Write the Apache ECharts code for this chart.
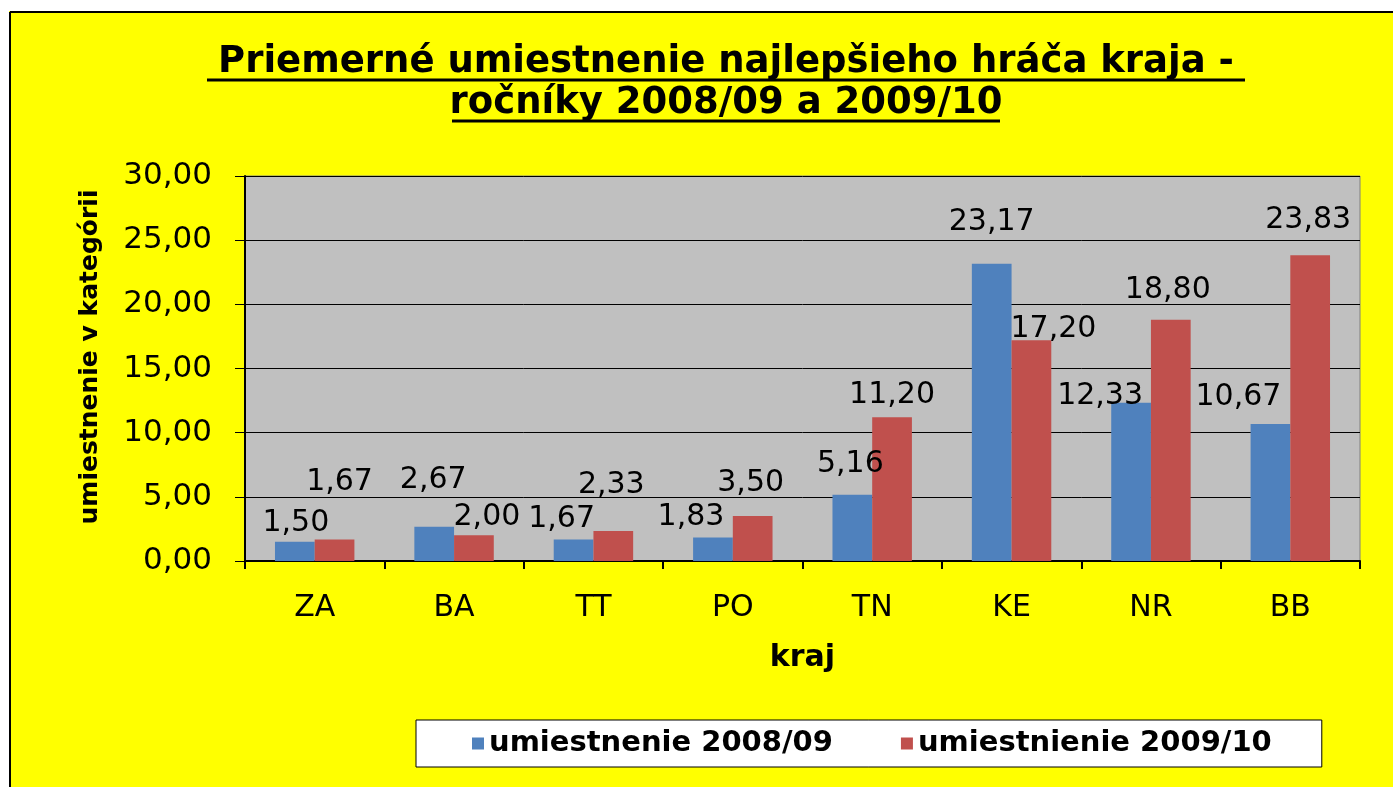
<!DOCTYPE html>
<html>
<head>
<meta charset="utf-8">
<script src="https://cdn.jsdelivr.net/npm/echarts@6/dist/echarts.min.js"></script>
<style>
  html, body { margin: 0; padding: 0; background: #fff; }
  #main { width: 1393px; height: 787px; }
</style>
</head>
<body>
<div id="main"></div>
<script>
// kraje a priemerne umiestnenie
const kraje = ['ZA', 'BA', 'TT', 'PO', 'TN', 'KE', 'NR', 'BB'];
const rok0809 = [1.50, 2.67, 1.67, 1.83, 5.16, 23.17, 12.33, 10.67];
const rok0910 = [1.67, 2.00, 2.33, 3.50, 11.20, 17.20, 18.80, 23.83];
const yTicks = [0, 5, 10, 15, 20, 25, 30];

// posun popiskov ako v povodnom grafe (dx, dy)
const posun0809 = [[1, 1], [-1, -27], [-12, 0], [-22, 0], [-2, -11], [0, -21], [-31, 13], [-32, -7]];
const posun0910 = [[5, -37], [13, 2], [-2, -26], [-2, -13], [0, -2], [22, 9], [-3, -10], [-2, -15]];

const chart = echarts.init(document.getElementById('main'));

const fmt = v => v.toFixed(2).replace('.', ',');
const numFont = 'DejaVu Sans';

function mkData(vals, shifts) {
  return vals.map((v, i) => ({
    value: v,
    label: { offset: shifts[i] }
  }));
}

const labelStyle = {
  show: true,
  position: 'top',
  distance: 5,
  color: '#000',
  fontFamily: numFont,
  fontSize: 30,
  formatter: p => fmt(p.value)
};

chart.setOption({
  backgroundColor: '#FFFF00',
  animation: false,
  graphic: [
    // okraj
    { type: 'rect', shape: { x: 0, y: 0, width: 1393, height: 11 }, style: { fill: '#fff' }, silent: true },
    { type: 'rect', shape: { x: 0, y: 0, width: 9, height: 787 }, style: { fill: '#fff' }, silent: true },
    { type: 'line', shape: { x1: 10, y1: 12, x2: 1393, y2: 12 }, style: { stroke: '#000', lineWidth: 2 }, silent: true },
    { type: 'line', shape: { x1: 10, y1: 12, x2: 10, y2: 787 }, style: { stroke: '#000', lineWidth: 2 }, silent: true },
    // nadpis
    {
      type: 'text', x: 726, y: 62,
      style: {
        text: 'Priemerné umiestnenie najlepšieho hráča kraja -',
        font: 'bold 37px "DejaVu Sans"', fill: '#000',
        textAlign: 'center', textVerticalAlign: 'middle'
      }
    },
    {
      type: 'text', x: 726, y: 103,
      style: {
        text: 'ročníky 2008/09 a 2009/10',
        font: 'bold 37px "DejaVu Sans"', fill: '#000',
        textAlign: 'center', textVerticalAlign: 'middle'
      }
    },
    { type: 'line', shape: { x1: 207, y1: 80, x2: 1245, y2: 80 }, style: { stroke: '#000', lineWidth: 3 }, silent: true },
    { type: 'line', shape: { x1: 452, y1: 121, x2: 1000, y2: 121 }, style: { stroke: '#000', lineWidth: 3 }, silent: true },
    // nazov osi y
    {
      type: 'text', x: 90, y: 357, rotation: Math.PI / 2,
      style: {
        text: 'umiestnenie v kategórii',
        font: 'bold 25px "DejaVu Sans"', fill: '#000',
        textAlign: 'center', textVerticalAlign: 'middle'
      }
    }
  ],
  legend: {
    left: 416,
    top: 720,
    orient: 'horizontal',
    backgroundColor: '#fff',
    borderColor: '#000',
    borderWidth: 1,
    padding: [9, 50, 9, 56],
    itemWidth: 12,
    itemHeight: 12,
    itemGap: 68,
    icon: 'rect',
    textStyle: { fontFamily: numFont, fontWeight: 'bold', fontSize: 29, color: '#000' },
    data: ['umiestnenie 2008/09', 'umiestnienie 2009/10']
  },
  grid: {
    left: 245,
    top: 176,
    right: 33,
    bottom: 226,
    show: true,
    backgroundColor: '#C0C0C0',
    borderColor: '#808080',
    borderWidth: 1
  },
  xAxis: {
    type: 'category',
    data: kraje,
    name: 'kraj',
    nameLocation: 'middle',
    nameGap: 82,
    nameTextStyle: { fontFamily: numFont, fontWeight: 'bold', fontSize: 30, color: '#000' },
    axisLine: { lineStyle: { color: '#000', width: 2 } },
    axisTick: { show: true, length: 8, lineStyle: { color: '#000', width: 2 } },
    axisLabel: { color: '#000', fontFamily: numFont, fontSize: 30, margin: 32 },
    splitLine: { show: false }
  },
  yAxis: {
    type: 'value',
    min: 0,
    max: 30,
    interval: 5,
    axisLine: { show: true, lineStyle: { color: '#000', width: 2 } },
    axisTick: { show: true, length: 10, lineStyle: { color: '#000', width: 1 } },
    axisLabel: {
      color: '#000', fontFamily: numFont, fontSize: 31, margin: 33,
      formatter: v => (yTicks.includes(v) ? fmt(v) : '')
    },
    splitLine: { show: true, lineStyle: { color: '#000', width: 1 } }
  },
  series: [
    {
      name: 'umiestnenie 2008/09',
      type: 'bar',
      data: mkData(rok0809, posun0809),
      itemStyle: { color: '#4F81BD' },
      barGap: '0%',
      barCategoryGap: '43%',
      label: labelStyle
    },
    {
      name: 'umiestnienie 2009/10',
      type: 'bar',
      data: mkData(rok0910, posun0910),
      itemStyle: { color: '#C0504D' },
      barGap: '0%',
      barCategoryGap: '43%',
      label: labelStyle
    }
  ]
});
</script>
</body>
</html>
